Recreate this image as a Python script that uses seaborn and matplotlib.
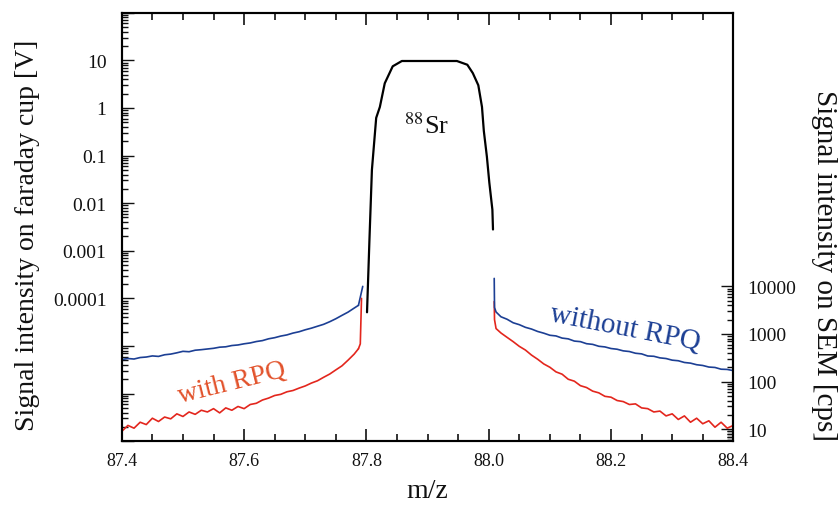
"""
88Sr peak scan: faraday cup signal and SEM tails with / without RPQ
"""
import numpy as np
import pandas as pd
import matplotlib
matplotlib.use('Agg')
import matplotlib.pyplot as plt
from matplotlib.ticker import FixedLocator, FixedFormatter, MultipleLocator, LogLocator, NullFormatter
import seaborn as sns

# 88Sr peak on faraday cup [V]
sr_mz = [87.801, 87.805, 87.809, 87.816, 87.822, 87.830, 87.843, 87.858,
         87.90, 87.948, 87.965, 87.974, 87.983, 87.989, 87.992, 87.997,
         88.001, 88.006, 88.007]
sr_v = [5.1e-5, 1.75e-3, 0.05, 0.62, 1.05, 3.3, 7.5, 9.7,
        9.7, 9.7, 8.1, 5.4, 3.0, 1.05, 0.33, 0.095,
        0.027, 0.0073, 0.0028]

# SEM tails [cps], left of the peak
left_mz = [87.40, 87.41, 87.42, 87.43, 87.44, 87.45, 87.46, 87.47, 87.48, 87.49,
           87.50, 87.51, 87.52, 87.53, 87.54, 87.55, 87.56, 87.57, 87.58, 87.59,
           87.60, 87.61, 87.62, 87.63, 87.64, 87.65, 87.66, 87.67, 87.68, 87.69,
           87.70, 87.71, 87.72, 87.73, 87.74, 87.75, 87.76, 87.77, 87.78, 87.787]
blue_left = [290, 305, 298, 320, 328, 346, 338, 366, 378, 402,
             432, 424, 456, 468, 484, 500, 528, 538, 572, 588,
             622, 648, 694, 726, 792, 836, 904, 956, 1045, 1115,
             1225, 1325, 1455, 1595, 1810, 2090, 2460, 2880, 3500, 4000]
red_left = [9, 12, 10.5, 14, 12.5, 17, 14.5, 18, 16.5, 21,
            18.5, 23, 20.5, 25, 23, 27, 22, 28, 25, 30,
            27, 33, 35, 41, 45, 51, 54, 61, 65, 73,
            81, 93, 104, 123, 144, 176, 214, 282, 378, 490]
blue_left_spike_mz = [87.787, 87.794]
blue_left_spike = [4000, 10000]
red_left_spike_mz = [87.787, 87.790, 87.792]
red_left_spike = [490, 620, 5600]

# SEM tails [cps], right of the peak
right_mz = [88.009, 88.0095, 88.012, 88.02, 88.03, 88.04, 88.05, 88.06, 88.07, 88.08,
            88.09, 88.10, 88.11, 88.12, 88.13, 88.14, 88.15, 88.16, 88.17, 88.18,
            88.19, 88.20, 88.21, 88.22, 88.23, 88.24, 88.25, 88.26, 88.27, 88.28,
            88.29, 88.30, 88.31, 88.32, 88.33, 88.34, 88.35, 88.36, 88.37, 88.38,
            88.39, 88.40]
blue_right = [14700, 3600, 2900, 2300, 2040, 1720, 1570, 1380, 1270, 1130,
              1040, 940, 910, 820, 790, 710, 690, 625, 605, 552,
              535, 495, 478, 442, 428, 394, 382, 345, 340, 315,
              305, 282, 274, 252, 244, 226, 218, 202, 198, 182,
              180, 170]
red_right = [4800, 2000, 1300, 1050, 850, 690, 550, 460, 360, 295,
             235, 200, 160, 143, 112, 102, 82, 75, 63, 58,
             49, 47, 40, 38, 33, 34, 28, 27, 23, 24,
             19, 21, 16, 19, 14, 17, 13, 15, 11, 14,
             10.5, 12]

XTICKS = [87.4, 87.6, 87.8, 88.0, 88.2, 88.4]
XLABELS = ['87.4', '87.6', '87.8', '88.0', '88.2', '88.4']
LEFT_TICKS = [1e-4, 1e-3, 1e-2, 1e-1, 1, 10]
LEFT_LABELS = ['0.0001', '0.001', '0.01', '0.1', '1', '10']
RIGHT_TICKS = [10, 100, 1000, 10000]
RIGHT_LABELS = ['10', '100', '1000', '10000']

BLUE = '#1c3f94'
RED = '#e3261d'
INK = '#111111'

sns.set_style('ticks')
plt.rcParams['font.family'] = ['Liberation Serif', 'DejaVu Serif']
plt.rcParams['mathtext.fontset'] = 'stix'

fig = plt.figure(figsize=(8.4, 5.1), dpi=100)
ax = fig.add_axes([0.145, 0.133, 0.728, 0.840])
ax2 = ax.twinx()

# black peak on the faraday cup axis
sns.lineplot(x=sr_mz, y=sr_v, ax=ax, color='black', linewidth=1.6, sort=False,
             estimator=None)

# SEM tails on the right axis
for xs, ys, c in [(left_mz, blue_left, BLUE), (left_mz, red_left, RED),
                  (blue_left_spike_mz, blue_left_spike, BLUE),
                  (red_left_spike_mz, red_left_spike, RED),
                  (right_mz, red_right, RED), (right_mz, blue_right, BLUE)]:
    sns.lineplot(x=xs, y=ys, ax=ax2, color=c, linewidth=1.2, sort=False,
                 estimator=None)

ax.set_yscale('log')
ax2.set_yscale('log')
ax.set_xlim(87.4, 88.4)
ax.set_ylim(1e-7, 1e2)
ax2.set_ylim(5.6, 5.6e9)

# x ticks, mirrored on top
ax.xaxis.set_major_locator(FixedLocator(XTICKS))
ax.xaxis.set_major_formatter(FixedFormatter(XLABELS))
ax.xaxis.set_minor_locator(MultipleLocator(0.05))
ax.tick_params(axis='x', which='both', direction='in', top=True, labelsize=13,
               width=1.2, pad=8, colors=INK)
ax.tick_params(axis='x', which='major', length=8.5)
ax.tick_params(axis='x', which='minor', length=5)

# left log axis
ax.yaxis.set_major_locator(FixedLocator([10.0 ** k for k in range(-7, 3)]))
ax.yaxis.set_major_formatter(FixedFormatter(
    ['' if 10.0 ** k not in LEFT_TICKS else LEFT_LABELS[LEFT_TICKS.index(10.0 ** k)]
     for k in range(-7, 3)]))
ax.yaxis.set_minor_locator(LogLocator(base=10, subs=np.arange(2, 10), numticks=20))
ax.yaxis.set_minor_formatter(NullFormatter())
ax.tick_params(axis='y', which='both', direction='in', right=False, labelsize=14,
               width=1.0, pad=11, colors=INK)
ax.tick_params(axis='y', which='major', length=8.5)
ax.tick_params(axis='y', which='minor', length=4.5)

# right log axis, only ticked over the SEM range
ax2.yaxis.set_major_locator(FixedLocator(RIGHT_TICKS))
ax2.yaxis.set_major_formatter(FixedFormatter(RIGHT_LABELS))
minor_r = [v * m for v in [1, 10, 100, 1000] for m in range(2, 10)] + [6, 7, 8, 9]
ax2.yaxis.set_minor_locator(FixedLocator(sorted(minor_r)))
ax2.yaxis.set_minor_formatter(NullFormatter())
ax2.tick_params(axis='y', which='both', direction='in', labelsize=14,
                width=1.0, pad=10, colors=INK)
ax2.tick_params(axis='y', which='major', length=8.5)
ax2.tick_params(axis='y', which='minor', length=4.5)

for a in (ax, ax2):
    for s in a.spines.values():
        s.set_linewidth(1.5)
        s.set_color('black')

ax.set_xlabel('m/z', fontsize=20, labelpad=6, color=INK)
ax.set_ylabel('')
ax2.set_ylabel('')
fig.text(0.033, 0.539, 'Signal intensity on faraday cup [V]', fontsize=20,
         rotation=90, ha='center', va='center', color=INK)
fig.text(0.981, 0.480, 'Signal intensity on SEM [cps]', fontsize=21,
         rotation=270, ha='center', va='center', color=INK)

ax.text(87.899, 0.44, r'$^{88}$Sr', fontsize=19, ha='center', va='center', color=INK)
ax.text(87.58, 1.75e-6, 'with RPQ', color='#e2522b', fontsize=20,
        rotation=14, ha='center', va='center')
ax.text(88.223, 2.5e-5, 'without RPQ', color=BLUE, fontsize=21,
        rotation=-11, ha='center', va='center')

fig.savefig('out.png', dpi=100)
plt.close(fig)
